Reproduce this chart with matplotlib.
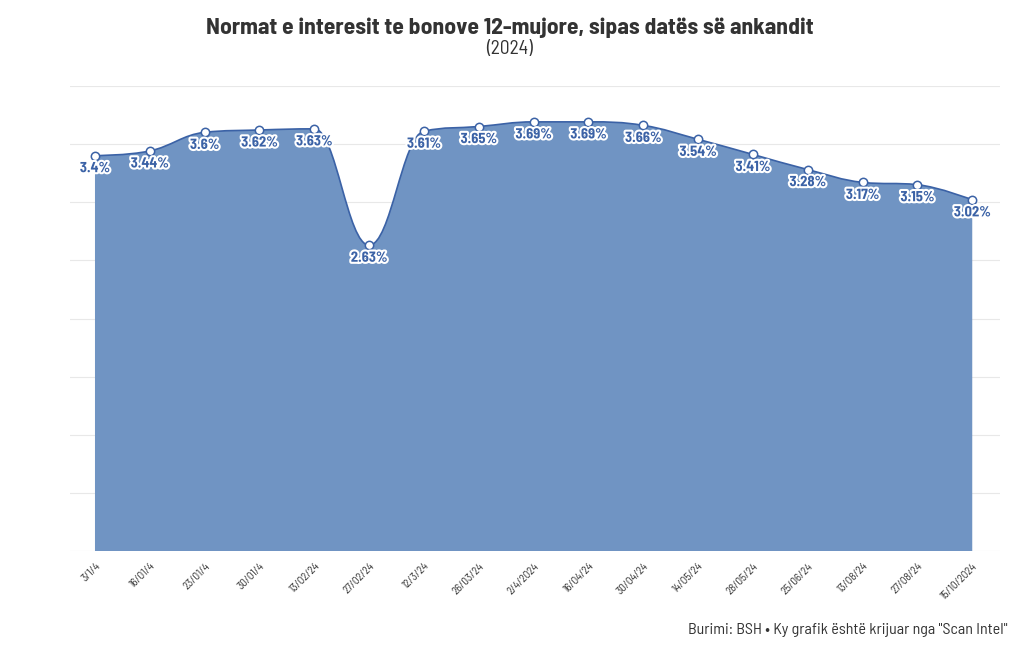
import matplotlib
matplotlib.use("Agg")
import matplotlib.pyplot as plt
import matplotlib.patheffects as pe
from matplotlib.path import Path
from matplotlib.patches import PathPatch
import numpy as np

plt.rcParams['font.family'] = ['Barlow Semi Condensed', 'Liberation Sans Narrow', 'DejaVu Sans']

dates = ["3/1/4", "16/01/4", "23/01/4", "30/01/4", "13/02/24", "27/02/24", "12/3/24",
         "26/03/24", "2/4/2024", "16/04/24", "30/04/24", "14/05/24", "28/05/24",
         "25/06/24", "13/08/24", "27/08/24", "15/10/2024"]
rates = [3.40, 3.44, 3.60, 3.62, 3.63, 2.63, 3.61, 3.65, 3.69, 3.69, 3.66,
         3.54, 3.41, 3.28, 3.17, 3.15, 3.02]
labels = ["3.4%", "3.44%", "3.6%", "3.62%", "3.63%", "2.63%", "3.61%", "3.65%",
          "3.69%", "3.69%", "3.66%", "3.54%", "3.41%", "3.28%", "3.17%", "3.15%", "3.02%"]

LINE = "#3b62a6"
FILL = "#7094c3"


def spline_path(xs, ys, smoothing=1.5):
    # highcharts-like spline: cubic bezier control points per point
    n = len(xs)
    left = [(xs[0], ys[0])]
    right = [(xs[0], ys[0])]
    for i in range(1, n - 1):
        d = smoothing + 1
        lx = (smoothing * xs[i] + xs[i - 1]) / d
        ly = (smoothing * ys[i] + ys[i - 1]) / d
        rx = (smoothing * xs[i] + xs[i + 1]) / d
        ry = (smoothing * ys[i] + ys[i + 1]) / d
        corr = (ry - ly) * (rx - xs[i]) / (rx - lx) + ys[i] - ry
        ly += corr
        ry += corr
        if ly > ys[i - 1] and ly > ys[i]:
            ly = max(ys[i - 1], ys[i]); ry = 2 * ys[i] - ly
        elif ly < ys[i - 1] and ly < ys[i]:
            ly = min(ys[i - 1], ys[i]); ry = 2 * ys[i] - ly
        if ry > ys[i + 1] and ry > ys[i]:
            ry = max(ys[i + 1], ys[i]); ly = 2 * ys[i] - ry
        elif ry < ys[i + 1] and ry < ys[i]:
            ry = min(ys[i + 1], ys[i]); ly = 2 * ys[i] - ry
        left.append((lx, ly))
        right.append((rx, ry))
    left.append((xs[-1], ys[-1]))
    right.append((xs[-1], ys[-1]))
    verts = [(xs[0], ys[0])]
    codes = [Path.MOVETO]
    for i in range(1, n):
        verts += [right[i - 1], left[i], (xs[i], ys[i])]
        codes += [Path.CURVE4] * 3
    return verts, codes


fig = plt.figure(figsize=(10.2, 6.5), dpi=100)
ax = fig.add_axes([0.0686, 0.152, 0.912, 0.716])

x = np.arange(len(rates))
verts, codes = spline_path(list(x), rates)

fill_verts = verts + [(x[-1], 0), (x[0], 0), (x[0], rates[0])]
fill_codes = codes + [Path.LINETO, Path.LINETO, Path.CLOSEPOLY]
ax.add_patch(PathPatch(Path(fill_verts, fill_codes), facecolor=FILL, edgecolor='none', zorder=2))
ax.add_patch(PathPatch(Path(verts, codes), facecolor='none', edgecolor=LINE, lw=1.2, zorder=3))

ax.scatter(x, rates, s=36, facecolor='white', edgecolor=LINE, linewidth=1.1, zorder=4)

for xi, yi, lab in zip(x, rates, labels):
    ax.annotate(lab, (xi, yi), xytext=(0, -4), textcoords='offset points',
                ha='center', va='top', fontsize=10.5, fontweight='bold', color=LINE,
                path_effects=[pe.withStroke(linewidth=3, foreground='white')], zorder=5)

ax.set_xlim(-0.456, len(rates) - 1 + 0.51)
ax.set_ylim(0, 4.0)
ax.set_yticks(np.arange(0, 4.01, 0.5))
ax.yaxis.grid(True, color='#e8e8e8', lw=0.8)
ax.set_axisbelow(True)
ax.tick_params(axis='y', left=False, labelleft=False)
ax.set_xticks(x)
ax.set_xticklabels(dates, rotation=45, ha='right', rotation_mode='anchor', fontsize=8, color='#333333')
ax.tick_params(axis='x', length=0, pad=7)
for s in ax.spines.values():
    s.set_visible(False)

fig.text(0.5, 0.958, "Normat e interesit te bonove 12-mujore, sipas datës së ankandit",
         ha='center', va='center', fontsize=17, fontweight='bold', color='#333333')
fig.text(0.5, 0.924, "(2024)", ha='center', va='center', fontsize=14, color='#333333')
fig.text(0.988, 0.031, 'Burimi: BSH • Ky grafik është krijuar nga "Scan Intel"',
         ha='right', va='center', fontsize=11.5, color='#333333')

fig.savefig("out.png", dpi=100, facecolor='white')
